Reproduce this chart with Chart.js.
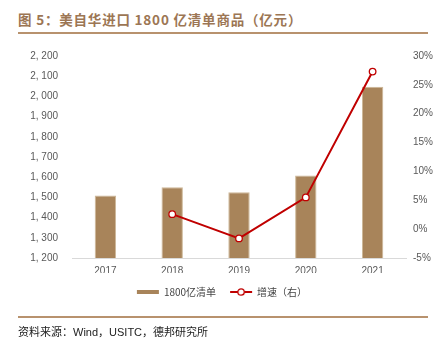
<!DOCTYPE html>
<html><head><meta charset="utf-8">
<script src="https://cdn.jsdelivr.net/npm/chart.js@4"></script>
<style>
html,body{margin:0;padding:0;background:#fff;}
#wrap{position:relative;width:444px;height:357px;overflow:hidden;}
#title{position:absolute;left:18px;top:9px;font-family:"Noto Sans CJK SC",sans-serif;font-weight:bold;font-size:13.5px;color:#9c7654;letter-spacing:0.8px;white-space:nowrap;}
#topline{position:absolute;left:18px;width:410px;top:32px;height:2px;background:#b8926e;}
#botline{position:absolute;left:18px;width:410px;top:316px;height:2px;background:#b8926e;}
#source{position:absolute;left:18px;top:323px;font-family:"Noto Sans CJK SC",sans-serif;font-size:11px;color:#222;white-space:nowrap;}
#source .en{font-family:"Liberation Sans",Arial,sans-serif;}
canvas{position:absolute;left:0;top:0;}
</style></head>
<body><div id="wrap">
<div id="title">图 5：美自华进口 1800 亿清单商品（亿元）</div>
<div id="topline"></div>
<canvas id="c" width="444" height="357"></canvas>
<div id="botline"></div>
<div id="source">资料来源：<span class="en">Wind</span>，<span class="en">USITC</span>，德邦研究所</div>
</div>
<script>
const categories = ["2017","2018","2019","2020","2021"];
const listValues = [1510, 1550, 1525, 1609, 2048];
const growthValues = [null, 2.6, -1.6, 5.5, 27.3];
const leftTicks = [1200,1300,1400,1500,1600,1700,1800,1900,2000,2100,2200];
const rightTicks = [-5,0,5,10,15,20,25,30];

const barColor = '#a8845a';
const lineColor = '#c00000';

// legend icon for line series
const icon = document.createElement('canvas');
icon.width = 24; icon.height = 10;
(function(){
  const g = icon.getContext('2d');
  g.strokeStyle = lineColor; g.lineWidth = 2;
  g.beginPath(); g.moveTo(1,5); g.lineTo(23,5); g.stroke();
  g.beginPath(); g.arc(12,5,3.2,0,Math.PI*2); g.fillStyle='#fff'; g.fill();
  g.lineWidth = 1.3; g.stroke();
})();

const tickFont = {family:'"Liberation Sans", Arial, sans-serif', size:10};
new Chart(document.getElementById('c'), {
  data: {
    labels: categories,
    datasets: [
      {type:'bar', label:'1800亿清单', data:listValues, yAxisID:'y',
       backgroundColor:barColor, borderColor:'#cdb797', borderWidth:1,
       categoryPercentage:1, barPercentage:0.32, order:2},
      {type:'line', label:'增速（右）', data:growthValues, yAxisID:'y1',
       borderColor:lineColor, borderWidth:2, pointRadius:3.3, pointBorderWidth:1.3,
       pointBackgroundColor:'#fff', pointBorderColor:lineColor, tension:0, order:1}
    ]
  },
  options: {
    responsive:false, animation:false,
    layout:{padding:{top:56,bottom:50,left:0,right:0}},
    plugins:{
      tooltip:{enabled:false},
      legend:{position:'bottom', labels:{
        usePointStyle:true, pointStyleWidth:22, boxHeight:4, padding:14,
        color:'#444', font:{family:'"Noto Sans CJK SC", sans-serif', size:10},
        generateLabels: (chart)=>[
          {text:'1800亿清单', fillStyle:barColor, strokeStyle:barColor, lineWidth:0, pointStyle:'rect', datasetIndex:0, fontColor:'#444'},
          {text:'增速（右）', fillStyle:'#fff', strokeStyle:lineColor, lineWidth:0, pointStyle:icon, datasetIndex:1, fontColor:'#444'}
        ]
      }}
    },
    scales:{
      x:{grid:{display:false, drawTicks:false}, border:{color:'#d9d9d9', width:1},
         ticks:{color:'#595959', font:tickFont, padding:7},
         afterFit:(s)=>{s.height=15;}},
      y:{position:'left', min:1200, max:2200, grid:{display:false, drawTicks:false}, border:{display:false},
         afterBuildTicks:(s)=>{s.ticks=leftTicks.map(v=>({value:v}));},
         ticks:{color:'#595959', font:tickFont, padding:14,
           callback:(v)=>{const s=String(v);return s.length>3? s.slice(0,s.length-3)+', '+s.slice(-3):s;}},
         afterFit:(s)=>{s.width=72;}},
      y1:{position:'right', min:-5, max:30, grid:{display:false, drawTicks:false}, border:{display:false},
         afterBuildTicks:(s)=>{s.ticks=rightTicks.map(v=>({value:v}));},
         ticks:{color:'#595959', font:tickFont, padding:7, callback:(v)=>v+'%'},
         afterFit:(s)=>{s.width=38;}}
    }
  }
});
</script>
</body></html>
